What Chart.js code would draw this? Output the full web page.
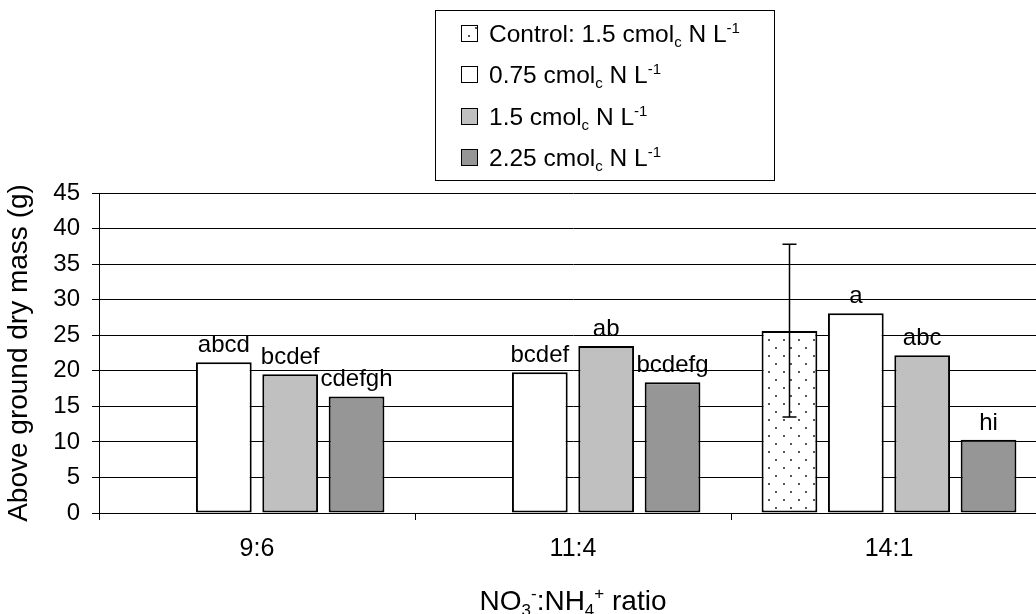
<!DOCTYPE html>
<html><head><meta charset="utf-8">
<script src="https://cdn.jsdelivr.net/npm/chart.js@4"></script>
<style>html,body{margin:0;padding:0;overflow:hidden;background:#fff;width:1036px;height:614px}canvas{display:block}</style>
</head><body>
<canvas id="c" width="1050" height="614"></canvas>
<script>
// ---- data ----
const categories = ['9:6', '11:4', '14:1'];
const seriesNames = ['Control: 1.5 cmol_{c} N L^{-1}', '0.75 cmol_{c} N L^{-1}', '1.5 cmol_{c} N L^{-1}', '2.25 cmol_{c} N L^{-1}'];
const controlValues = [null, null, 25.6];
const n075Values = [21.2, 19.8, 28.1];
const n15Values = [19.5, 23.5, 22.2];
const n225Values = [16.4, 18.4, 10.3];
const controlErrLow = [null, null, 13.5];
const controlErrHigh = [null, null, 37.8];
const controlLetters = ['', '', ''];
const n075Letters = ['abcd', 'bcdef', 'a'];
const n15Letters = ['bcdef', 'ab', 'abc'];
const n225Letters = ['cdefgh', 'bcdefg', 'hi'];
const yMin = 0, yMax = 45, yStep = 5;
const yTitle = 'Above ground dry mass (g)';
const xTitle = 'NO_{3}^{-}:NH_{4}^{+} ratio';

// ---- helpers ----
const FAM = '"Liberation Sans", Arial, Helvetica, sans-serif';
const canvas = document.getElementById('c');
const mainCtx = canvas.getContext('2d');
function dotPattern() {
  const c = document.createElement('canvas'); c.width = 15; c.height = 16;
  const g = c.getContext('2d');
  g.fillStyle = '#fff'; g.fillRect(0, 0, 15, 16);
  g.fillStyle = '#555';
  g.fillRect(3, 3, 2, 2); g.fillRect(10, 11, 2, 2);
  return mainCtx.createPattern(c, 'repeat');
}
const pattern = dotPattern();
const fills = [pattern, '#ffffff', '#c0c0c0', '#969696'];

function parseRich(s) {
  const parts = []; const re = /([_^])\{([^}]*)\}/g; let last = 0, m;
  while ((m = re.exec(s))) {
    if (m.index > last) parts.push({ t: s.slice(last, m.index), k: '' });
    parts.push({ t: m[2], k: m[1] }); last = re.lastIndex;
  }
  if (last < s.length) parts.push({ t: s.slice(last), k: '' });
  return parts;
}
function drawRich(ctx, s, x, y, size, align) {
  const parts = parseRich(s);
  const small = Math.round(size * 0.62);
  let w = 0;
  parts.forEach(p => { ctx.font = (p.k ? small : size) + 'px ' + FAM; p.w = ctx.measureText(p.t).width; w += p.w; });
  let cx = align === 'center' ? x - w / 2 : x;
  ctx.textAlign = 'left'; ctx.textBaseline = 'alphabetic'; ctx.fillStyle = '#000';
  parts.forEach(p => {
    ctx.font = (p.k ? small : size) + 'px ' + FAM;
    let dy = 0;
    if (p.k === '_') dy = size * 0.2;
    if (p.k === '^') dy = -size * 0.38;
    ctx.fillText(p.t, cx, y + dy);
    cx += p.w;
  });
}

const letters = [controlLetters, n075Letters, n15Letters, n225Letters];

const extras = {
  id: 'extras',
  afterDatasetsDraw(chart) {
    const ctx = chart.ctx; const ys = chart.scales.y;
    ctx.save();
    // letters above bars
    ctx.font = '24px ' + FAM; ctx.fillStyle = '#000'; ctx.textAlign = 'center'; ctx.textBaseline = 'alphabetic';
    letters.forEach((arr, i) => {
      const meta = chart.getDatasetMeta(i);
      arr.forEach((t, j) => {
        const el = meta.data[j];
        if (!t || !el) return;
        ctx.fillText(t, el.x, el.y - 10);
      });
    });
    // error bar on control
    const meta0 = chart.getDatasetMeta(0);
    ctx.strokeStyle = '#000'; ctx.lineWidth = 1.5;
    controlErrLow.forEach((lo, j) => {
      if (lo == null) return;
      const x = Math.round(meta0.data[j].x) + 0.5;
      const y1 = ys.getPixelForValue(controlErrHigh[j]);
      const y2 = ys.getPixelForValue(lo);
      ctx.beginPath();
      ctx.moveTo(x, y1); ctx.lineTo(x, y2);
      ctx.moveTo(x - 7, y1); ctx.lineTo(x + 7, y1);
      ctx.moveTo(x - 7, y2); ctx.lineTo(x + 7, y2);
      ctx.stroke();
    });
    ctx.restore();
  },
  afterDraw(chart) {
    const ctx = chart.ctx; const ca = chart.chartArea;
    ctx.save();
    // legend box
    ctx.fillStyle = '#fff'; ctx.fillRect(435, 10, 339, 170);
    ctx.strokeStyle = '#000'; ctx.lineWidth = 1;
    ctx.strokeRect(435.5, 10.5, 339, 170);
    seriesNames.forEach((name, i) => {
      const top = Math.round(25 + i * 41.3);
      ctx.fillStyle = fills[i]; ctx.fillRect(461, top, 17, 17);
      ctx.strokeStyle = '#000'; ctx.lineWidth = 1; ctx.strokeRect(461.5, top + 0.5, 16, 16);
      drawRich(ctx, name, 489, top + 17, 24.5, 'left');
    });
    // x title
    drawRich(ctx, xTitle, (ca.left + ca.right) / 2, 610, 28, 'center');
    ctx.restore();
  }
};

new Chart(canvas, {
  type: 'bar',
  data: {
    labels: categories,
    datasets: [controlValues, n075Values, n15Values, n225Values].map((d, i) => ({
      label: seriesNames[i], data: d, backgroundColor: fills[i],
      borderColor: '#000', borderWidth: 2, borderSkipped: false,
      categoryPercentage: 0.84, barPercentage: 0.84
    }))
  },
  options: {
    responsive: false, animation: false, devicePixelRatio: 1,
    layout: { padding: { top: 193, right: 3, left: 0, bottom: 0 } },
    plugins: { legend: { display: false }, tooltip: { enabled: false } },
    scales: {
      x: {
        afterFit: s => { s.height = 101; },
        grid: { display: true, drawOnChartArea: false, drawTicks: true, tickLength: 7, color: '#000', offset: true },
        border: { color: '#000', width: 1 },
        ticks: { color: '#000', font: { family: FAM, size: 25 }, padding: 14 }
      },
      y: {
        min: yMin, max: yMax,
        afterFit: s => { s.width = 99; },
        grid: { color: '#000', lineWidth: 1, tickLength: 7 },
        border: { color: '#000', width: 1 },
        ticks: { stepSize: yStep, color: '#000', font: { family: FAM, size: 24 }, padding: 12 },
        title: { display: true, text: yTitle, color: '#000', font: { family: FAM, size: 28 }, padding: { top: 2, bottom: 0 } }
      }
    }
  },
  plugins: [extras]
});
</script>
</body></html>
